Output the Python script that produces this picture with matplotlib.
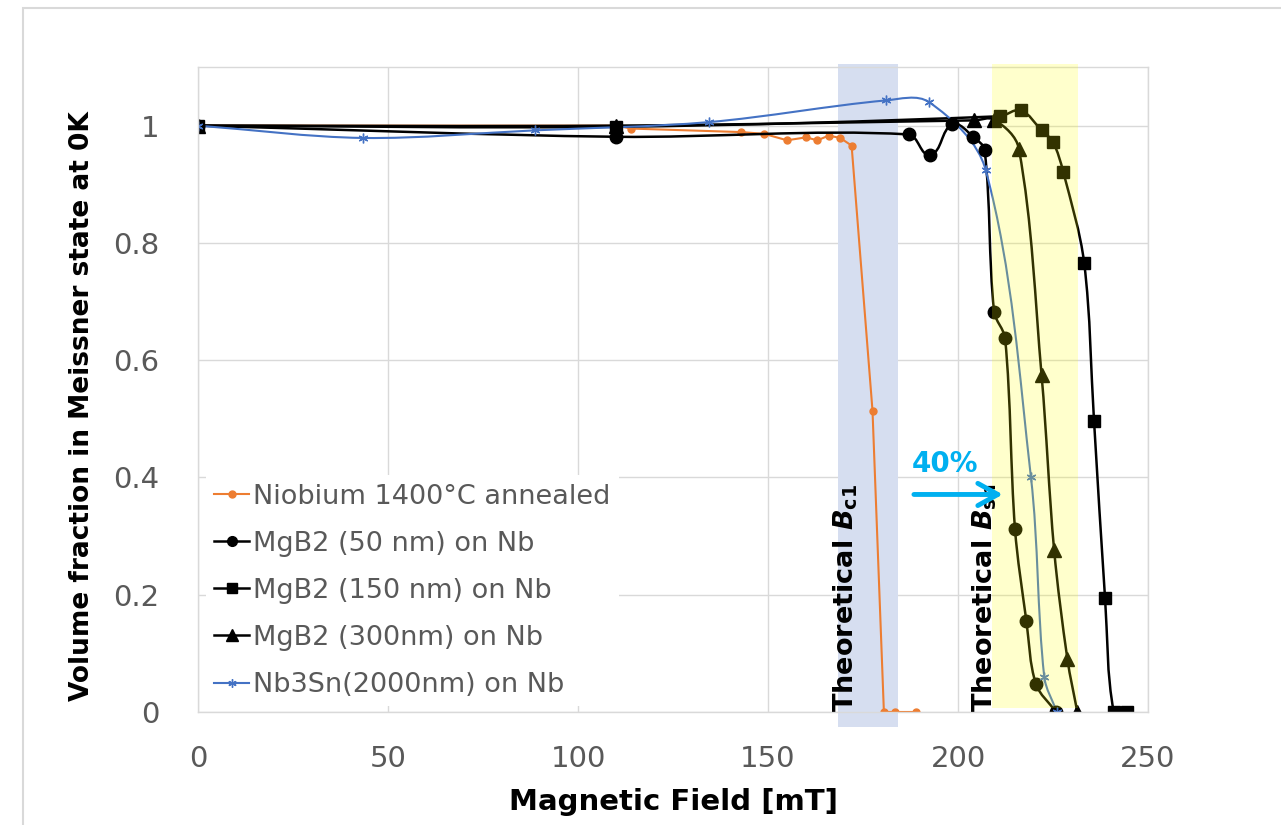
import matplotlib
matplotlib.use('Agg')
import matplotlib.pyplot as plt
import numpy as np
from matplotlib.path import Path
from matplotlib.patches import PathPatch, Rectangle
from matplotlib.lines import Line2D

# --- data (field in mT, Meissner fraction) ---
nb_x = [0, 110, 114, 143, 149, 155, 160, 163, 166, 169, 172, 177.5, 180.5, 183.5, 189]
nb_y = [1.0, 1.0, 0.995, 0.989, 0.986, 0.975, 0.980, 0.975, 0.983, 0.979, 0.966, 0.514, 0.0, 0.0, 0.0]

mgb50_x = [0, 110, 187, 192.7, 198.5, 204, 207, 209.5, 212.4, 215, 218, 220.5, 225.8]
mgb50_y = [1.0, 0.981, 0.985, 0.950, 1.002, 0.981, 0.958, 0.683, 0.637, 0.312, 0.155, 0.048, 0.0]

mgb150_x = [0, 110, 211, 216.5, 222, 225, 227.7, 233.2, 235.8, 238.7, 241, 244.5]
mgb150_y = [1.0, 0.998, 1.016, 1.026, 0.992, 0.972, 0.921, 0.766, 0.496, 0.194, 0.0, 0.0]

mgb300_x = [0, 110, 204.2, 209.6, 216, 222, 225.3, 228.8, 231.4]
mgb300_y = [1.0, 1.0, 1.009, 1.010, 0.961, 0.574, 0.276, 0.090, 0.0]

nb3sn_x = [0, 43.4, 88.8, 134.4, 181, 192.4, 207.3, 219.2, 222.7, 226]
nb3sn_y = [1.0, 0.979, 0.992, 1.006, 1.043, 1.040, 0.924, 0.40, 0.06, 0.0]

labels = ['Niobium 1400°C annealed', 'MgB2 (50 nm) on Nb', 'MgB2 (150 nm) on Nb',
          'MgB2 (300nm) on Nb', 'Nb3Sn(2000nm) on Nb']

# theoretical field ranges (mT)
bc1_range = (168.3, 184.1)
bsh_range = (208.9, 231.6)

x_ticks = [0, 50, 100, 150, 200, 250]
y_ticks = [0, 0.2, 0.4, 0.6, 0.8, 1.0]
y_ticklabels = ['0', '0.2', '0.4', '0.6', '0.8', '1']

GRID = '#D9D9D9'
TXT = '#595959'
ORANGE = '#ED7D31'
BLUE = '#4472C4'
CYAN = '#00B0F0'


def smooth_path(ax, x, y, k=0.33):
    # Excel-like smoothed line: cubic bezier through every point,
    # tangents from neighbours, handle length tied to the segment length (screen space)
    pts = ax.transData.transform(np.column_stack([x, y]).astype(float))
    n = len(pts)

    def unit(v):
        L = np.hypot(*v)
        return v / L if L > 0 else v

    verts = [pts[0]]
    codes = [Path.MOVETO]
    for i in range(n - 1):
        p0 = pts[i - 1] if i > 0 else pts[i]
        p1 = pts[i]
        p2 = pts[i + 1]
        p3 = pts[i + 2] if i + 2 < n else pts[i + 1]
        seg = np.hypot(*(p2 - p1))
        verts += [p1 + unit(p2 - p0) * seg * k, p2 - unit(p3 - p1) * seg * k, p2]
        codes += [Path.CURVE4] * 3
    verts = ax.transData.inverted().transform(np.array(verts))
    return Path(verts, codes)


fig = plt.figure(figsize=(12.81, 8.25), dpi=100)
fig.patch.set_facecolor('white')
ax = fig.add_axes([198 / 1281, 1 - 712 / 825, 950 / 1281, 645 / 825])

# outer chart border
fig.patches.append(Rectangle((23 / 1281, -0.1), 1.2, 0.1 + 1 - 8 / 825, transform=fig.transFigure,
                             facecolor='none', edgecolor=GRID, lw=1.5))

ax.set_xlim(0, 250)
ax.set_ylim(0, 1.1)
ax.set_axisbelow(True)
ax.grid(True, color=GRID, lw=1)
for s in ax.spines.values():
    s.set_color(GRID)
    s.set_linewidth(1)
ax.set_xticks(x_ticks)
ax.set_yticks(y_ticks)
ax.set_yticklabels(y_ticklabels)
ax.tick_params(length=0, labelsize=21, labelcolor=TXT)
ax.tick_params(axis='x', pad=24)
ax.tick_params(axis='y', pad=28)

# B_c1 band behind the data
ax.axvspan(*bc1_range, ymin=-0.024, ymax=1.005, color='#D6DEF0', zorder=1, clip_on=False, lw=0)

# Niobium: straight segments
ax.plot(nb_x, nb_y, color=ORANGE, lw=1.5, marker='o', ms=5, zorder=2)

series = [
    (mgb50_x, mgb50_y, 'k', 'o', 9, 1.8),
    (mgb150_x, mgb150_y, 'k', 's', 9, 1.8),
    (mgb300_x, mgb300_y, 'k', '^', 10, 1.8),
    (nb3sn_x, nb3sn_y, BLUE, (6, 2, 0), 7, 1.5),
]
for xs, ys, c, m, ms, lw in series:
    ax.add_patch(PathPatch(smooth_path(ax, xs, ys), facecolor='none', edgecolor=c, lw=lw, zorder=2))
    ax.plot(xs, ys, ls='none', marker=m, ms=ms, color=c, mec=c, zorder=2.1)

# B_sh band drawn semi transparent over the curves
ax.axvspan(*bsh_range, ymin=0.006, ymax=1.005, color='#FFFF00', alpha=0.2, zorder=3, clip_on=False, lw=0)

ax.text(172.5, 0.0, r'Theoretical $\mathbfit{B}_{\mathbf{c1}}$', rotation=90, rotation_mode='anchor',
        ha='left', va='baseline', fontsize=19.5, fontweight='bold', zorder=4)
ax.text(209.2, 0.0, r'Theoretical $\mathbfit{B}_{\mathbf{sh}}$', rotation=90, rotation_mode='anchor',
        ha='left', va='baseline', fontsize=19.5, fontweight='bold', zorder=4)
ax.text(196.5, 0.41, '40%', color=CYAN, fontsize=20, fontweight='bold', ha='center', va='baseline', zorder=4)
ax.annotate('', xy=(211.8, 0.371), xytext=(188.4, 0.371),
            arrowprops=dict(arrowstyle='->, head_length=0.72, head_width=0.4', color=CYAN, lw=3.5,
                            mutation_scale=20, shrinkA=0, shrinkB=0), zorder=4)

handles = [
    Line2D([], [], color=ORANGE, lw=1.5, marker='o', ms=5),
    Line2D([], [], color='k', lw=1.8, marker='o', ms=7),
    Line2D([], [], color='k', lw=1.8, marker='s', ms=7),
    Line2D([], [], color='k', lw=1.8, marker='^', ms=8),
    Line2D([], [], color=BLUE, lw=1.5, marker=(6, 2, 0), ms=6),
]
leg = ax.legend(handles, labels, loc='lower left', bbox_to_anchor=(-0.006, -0.012), fontsize=19.5,
                frameon=True, facecolor='white', edgecolor='none', framealpha=1, fancybox=False,
                handlelength=1.3, handletextpad=0.15, labelspacing=0.78, borderpad=0.3)
for t in leg.get_texts():
    t.set_color(TXT)

ax.set_xlabel('Magnetic Field [mT]', fontsize=21, fontweight='bold')
ax.xaxis.set_label_coords(0.5, -0.118)
ax.set_ylabel('Volume fraction in Meissner state at 0K', fontsize=19, fontweight='bold')
ax.yaxis.set_label_coords(-0.108, 0.474)

plt.savefig('out.png', dpi=100)
